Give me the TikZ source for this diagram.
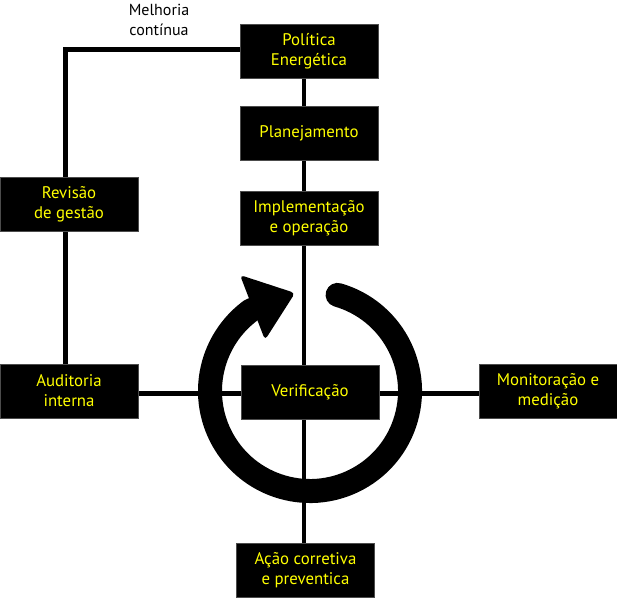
\documentclass[tikz,border=0pt]{standalone}
\usepackage{fontspec}
\setmainfont{PT Sans}
\usetikzlibrary{calc}
\definecolor{boxyellow}{RGB}{255,255,0}
\tikzset{
  box/.style={fill=black, draw=black!70, line width=0.6pt, minimum width=138pt, minimum height=54pt, inner sep=0pt,
    text=boxyellow, align=center, font=\fontsize{16.8}{20}\selectfont},
  conn/.style={line width=4.5pt, draw=black},
}
\begin{document}
\begin{tikzpicture}[x=1pt,y=1pt]
\useasboundingbox (0,0) rectangle (617,598);
% coordinates for connector lines
\coordinate (corner) at (65.5,548.5);
\coordinate (vx) at (304,0);
\coordinate (hy) at (0,204.5);
\coordinate (ringc) at (310,207);
% nodes
\path
  (309,546.5) node[box] (pol) {Política\\Energética}
  (309,464.5) node[box] (plan) {Planejamento}
  (309,379.5) node[box] (impl) {Implementação\\e operação}
  (310,206) node[box] (verif) {Verificação}
  (69,393.5) node[box] (rev) {Revisão\\de gestão}
  (69,207) node[box] (aud) {Auditoria\\interna}
  (548,207) node[box] (mon) {Monitoração e\\medição}
  (305.5,27.5) node[box] (acao) {Ação corretiva\\e preventica};
\node[font=\fontsize{16}{20}\selectfont, align=center, text=black] (melh) at (159,578.5) {Melhoria\\contínua};
% connectors
\draw[conn] (aud.north -| corner) -- (corner) -- (pol.west |- corner);
\draw[conn] (pol.south -| vx) -- (verif.north -| vx);
\draw[conn] (aud.east |- hy) -- (mon.west |- hy);
\draw[conn] (verif.south -| vx) -- (acao.north -| vx);
% ring arrow
\draw[line width=24pt, line cap=round] ($(ringc)+(74:100)$) arc[start angle=74, end angle=-234, radius=100];
\fill[rounded corners=4pt] (240,323) -- (295,305) -- (265,258) -- cycle;
% redraw boxes on top
\path
  (309,546.5) node[box] {Política\\Energética}
  (309,464.5) node[box] {Planejamento}
  (309,379.5) node[box] {Implementação\\e operação}
  (310,206) node[box] {Verificação}
  (69,393.5) node[box] {Revisão\\de gestão}
  (69,207) node[box] {Auditoria\\interna}
  (548,207) node[box] {Monitoração e\\medição}
  (305.5,27.5) node[box] {Ação corretiva\\e preventica};
\end{tikzpicture}
\end{document}
